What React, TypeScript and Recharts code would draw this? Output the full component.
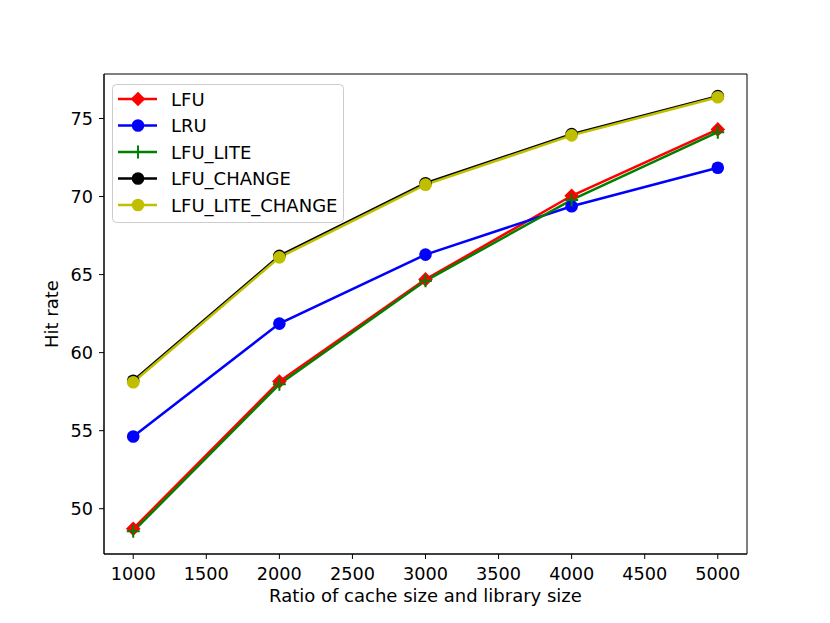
import React from "react";
import { LineChart, Line, XAxis, YAxis, ReferenceArea } from "recharts";

const sizes = [1000, 2000, 3000, 4000, 5000];
const lfu = [48.72, 58.15, 64.69, 70.05, 74.3];
const lru = [54.63, 61.86, 66.28, 69.38, 71.84];
const lfuLite = [48.55, 57.97, 64.6, 69.78, 74.12];
const lfuChange = [58.2, 66.2, 70.85, 74.0, 76.43];
const lfuLiteChange = [58.1, 66.1, 70.76, 73.92, 76.36];

const xTicks = [1000, 1500, 2000, 2500, 3000, 3500, 4000, 4500, 5000];
const yTicks = [50, 55, 60, 65, 70, 75];
const X_DOMAIN: [number, number] = [800, 5200];
const Y_DOMAIN: [number, number] = [47.1, 77.85];

const data = sizes.map((s, i) => ({
  size: s,
  LFU: lfu[i],
  LRU: lru[i],
  LFU_LITE: lfuLite[i],
  LFU_CHANGE: lfuChange[i],
  LFU_LITE_CHANGE: lfuLiteChange[i],
}));

const FONT = "DejaVu Sans, sans-serif";

type Marker = "diamond" | "circle" | "plus";

const series: { key: string; color: string; marker: Marker }[] = [
  { key: "LFU", color: "#ff0000", marker: "diamond" },
  { key: "LRU", color: "#0000ff", marker: "circle" },
  { key: "LFU_LITE", color: "#008000", marker: "plus" },
  { key: "LFU_CHANGE", color: "#000000", marker: "circle" },
  { key: "LFU_LITE_CHANGE", color: "#bfbf00", marker: "circle" },
];

function drawMarker(marker: Marker, color: string, cx: number, cy: number, key?: any) {
  if (marker === "diamond") {
    const r = 7.3;
    return (
      <path
        key={key}
        d={`M${cx},${cy - r}L${cx + r},${cy}L${cx},${cy + r}L${cx - r},${cy}Z`}
        fill={color}
      />
    );
  }
  if (marker === "plus") {
    const r = 6.5;
    return (
      <path
        key={key}
        d={`M${cx - r},${cy}H${cx + r}M${cx},${cy - r}V${cy + r}`}
        stroke={color}
        strokeWidth={2}
        fill="none"
      />
    );
  }
  return <circle key={key} cx={cx} cy={cy} r={6.3} fill={color} />;
}

// legend drawn as an svg overlay so it does not shrink the plot
function LegendBox() {
  return (
    <svg
      width={236}
      height={144}
      style={{ position: "absolute", left: 110, top: 82, overflow: "visible" }}
    >
      <rect
        x={2.5}
        y={2.5}
        width={231}
        height={138}
        rx={4}
        fill="rgba(255,255,255,0.8)"
        stroke="#cccccc"
        strokeWidth={1}
      />
      {series.map((s, i) => {
        const cy = 17 + i * 26.5;
        return (
          <g key={s.key}>
            <line x1={8} y1={cy} x2={47} y2={cy} stroke={s.color} strokeWidth={2.5} />
            {drawMarker(s.marker, s.color, 28, cy)}
            <text
              x={61}
              y={cy}
              dominantBaseline="central"
              fontFamily={FONT}
              fontSize={18}
              fill="#000"
            >
              {s.key}
            </text>
          </g>
        );
      })}
    </svg>
  );
}

function YLabel(props: any) {
  const vb = props.viewBox || {};
  const x = vb.x + 7;
  const y = vb.y + vb.height / 2;
  return (
    <text
      x={x}
      y={y}
      transform={`rotate(-90, ${x}, ${y})`}
      textAnchor="middle"
      dominantBaseline="central"
      fontFamily={FONT}
      fontSize={18}
      fill="#000"
    >
      Hit rate
    </text>
  );
}

export default function App() {
  const tickStyle = { fontFamily: FONT, fontSize: 17.7, fill: "#000" };
  return (
    <div style={{ position: "absolute", left: 0, top: 0, width: 830, height: 623, background: "#fff" }}>
      <LineChart
        width={830}
        height={623}
        data={data}
        margin={{ top: 74, right: 83, bottom: 17, left: 44 }}
      >
        <XAxis
          dataKey="size"
          type="number"
          domain={X_DOMAIN}
          ticks={xTicks}
          allowDataOverflow
          stroke="#000"
          tickSize={5}
          tickMargin={8}
          tick={tickStyle}
          height={52}
          label={{
            value: "Ratio of cache size and library size",
            position: "insideBottom",
            offset: 4,
            style: { fontFamily: FONT, fontSize: 18, fill: "#000" },
          }}
        />
        <YAxis
          type="number"
          domain={Y_DOMAIN}
          ticks={yTicks}
          allowDataOverflow
          stroke="#000"
          tickSize={5}
          tickMargin={6}
          tick={tickStyle}
          width={60}
          label={<YLabel />}
        />
        <ReferenceArea
          x1={X_DOMAIN[0]}
          x2={X_DOMAIN[1]}
          y1={Y_DOMAIN[0]}
          y2={Y_DOMAIN[1]}
          fill="none"
          stroke="#000"
          strokeWidth={1}
        />
        {series.map((s) => (
          <Line
            key={s.key}
            dataKey={s.key}
            stroke={s.color}
            strokeWidth={2.5}
            isAnimationActive={false}
            dot={(p: any) => drawMarker(s.marker, s.color, p.cx, p.cy, `${s.key}-${p.index}`)}
            activeDot={false}
          />
        ))}
      </LineChart>
      <LegendBox />
    </div>
  );
}
